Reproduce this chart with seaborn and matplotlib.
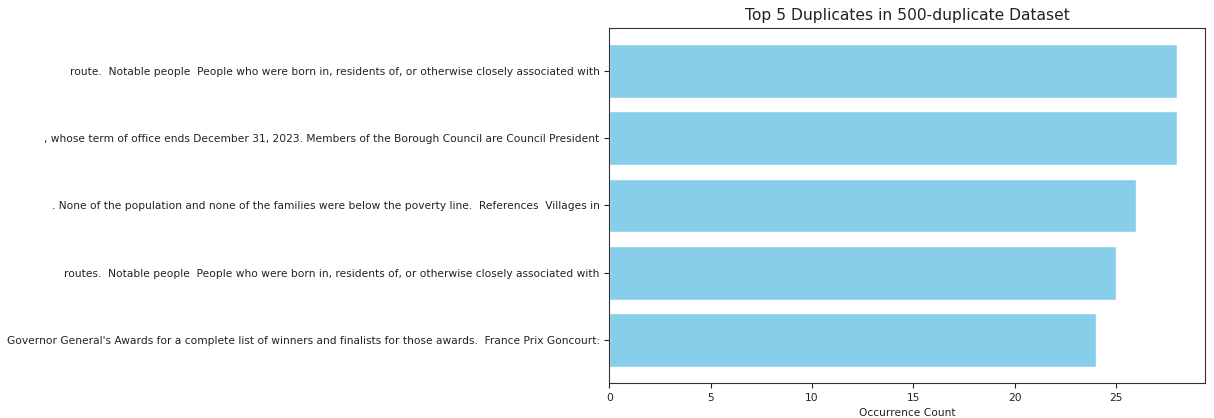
import pandas as pd
import matplotlib
matplotlib.use("Agg")
import matplotlib.pyplot as plt
import seaborn as sns

# Top 5 duplicated text snippets
snippets = [
    "route.  Notable people  People who were born in, residents of, or otherwise closely associated with",
    ", whose term of office ends December 31, 2023. Members of the Borough Council are Council President",
    ". None of the population and none of the families were below the poverty line.  References  Villages in",
    "routes.  Notable people  People who were born in, residents of, or otherwise closely associated with",
    "Governor General's Awards for a complete list of winners and finalists for those awards.  France Prix Goncourt:",
]
counts = [28, 28, 26, 25, 24]

df = pd.DataFrame({"snippet": snippets, "count": counts})

sns.set_style("ticks")
plt.rcParams["font.family"] = ["DejaVu Sans"]

fig = plt.figure(figsize=(12.14, 4.18), dpi=100)
ax = fig.add_axes([0.502, 0.084, 0.4906, 0.849])

sns.barplot(
    data=df,
    x="count",
    y="snippet",
    orient="h",
    color="skyblue",
    width=0.8,
    saturation=1,
    ax=ax
)

ax.set_ylim(4.64, -0.64)
ax.set_xlim(0, 29.4)
ax.set_xticks([0, 5, 10, 15, 20, 25])
ax.set_ylabel("")
ax.set_title("Top 5 Duplicates in 500-duplicate Dataset", fontsize=11.2, color="#222222")

# scale tick font so the longest label is about 592 px wide, as in the reference
r = fig.canvas.get_renderer()
probe = fig.text(0, 0, snippets[-1], fontsize=10)
w = probe.get_window_extent(r).width
probe.remove()
fs = 10 * 592 / w

ax.tick_params(labelsize=fs, colors="#222222")
ax.set_xlabel("Occurrence Count", fontsize=fs, color="#222222")
for s in ax.spines.values():
    s.set_visible(True)
    s.set_color("#333333")
    s.set_linewidth(0.8)

fig.savefig("out.png", dpi=100)
plt.close()
